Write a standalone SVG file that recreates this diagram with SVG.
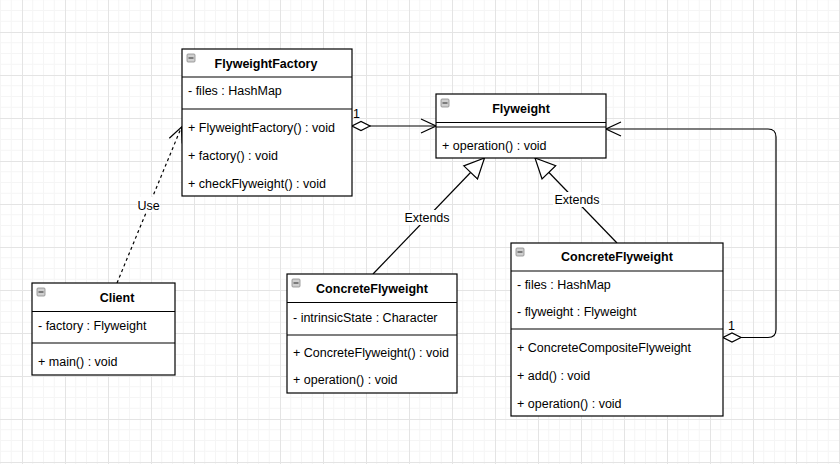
<svg xmlns="http://www.w3.org/2000/svg" width="840" height="464" viewBox="0 0 840 464">
<style>
.box{fill:#fff;stroke:#000;stroke-width:1.2}
.sep{stroke:#000;stroke-width:1.2}
.t{font-family:"Liberation Sans",Arial,sans-serif;font-size:12.5px;fill:#000}
.title{font-weight:bold;text-anchor:middle}
.lbl{text-anchor:middle}
.ic{fill:#cfcfcf;stroke:#8a8a8a;stroke-width:0.8}
.icm{stroke:#444;stroke-width:1.2}
.edge{fill:none;stroke:#000;stroke-width:1.2}
.lblbg{fill:#fff}
</style>
<defs>
<pattern id="grid" x="22" y="32" width="43" height="43" patternUnits="userSpaceOnUse">
<path d="M10.75,0V43M21.5,0V43M32.25,0V43M0,10.75H43M0,21.5H43M0,32.25H43" stroke="#f5f5f5" stroke-width="1"/>
<path d="M0.5,0V43M0,0.5H43" stroke="#e4e4e4" stroke-width="1"/>
</pattern>
<marker id="open" viewBox="0 0 17 16" refX="16" refY="8" markerWidth="17" markerHeight="16" markerUnits="userSpaceOnUse" orient="auto">
<path d="M1,1L16,8L1,15" fill="none" stroke="#000" stroke-width="1.2"/>
</marker>
<marker id="tri" viewBox="0 0 22 22" refX="21" refY="11" markerWidth="22" markerHeight="22" markerUnits="userSpaceOnUse" orient="auto">
<path d="M1,1.5L21,11L1,20.5Z" fill="#fff" stroke="#000" stroke-width="1.2"/>
</marker>
<marker id="dia" viewBox="0 0 20 12" refX="19" refY="6" markerWidth="20" markerHeight="12" markerUnits="userSpaceOnUse" orient="auto-start-reverse">
<path d="M1,6L10,1.5L19,6L10,10.5Z" fill="#fff" stroke="#000" stroke-width="1.2"/>
</marker>
</defs>
<rect width="840" height="464" fill="#fff"/>
<rect width="840" height="464" fill="url(#grid)"/>

<g id="connectors">
<g id="edge-use">
<path class="edge" d="M117,283L181.5,127" stroke-dasharray="3,3" marker-end="url(#open)"/>
<rect class="lblbg" x="137" y="197" width="23" height="15"/>
<text class="t lbl" x="148.5" y="209.5">Use</text>
</g>
<g id="edge-agg1">
<path class="edge" d="M352,126H436" marker-start="url(#dia)" marker-end="url(#open)"/>
<text class="t" x="353" y="118">1</text>
</g>
<g id="edge-ext1">
<path class="edge" d="M373,274L484.5,158" marker-end="url(#tri)"/>
<rect class="lblbg" x="403" y="210" width="48" height="15"/>
<text class="t lbl" x="427" y="222">Extends</text>
</g>
<g id="edge-ext2">
<path class="edge" d="M617,243L535,158" marker-end="url(#tri)"/>
<rect class="lblbg" x="553" y="192" width="48" height="15"/>
<text class="t lbl" x="577" y="204">Extends</text>
</g>
<g id="edge-agg2">
<path class="edge" d="M723,337.5H768Q776,337.5 776,329.5V137Q776,129 768,129H606" marker-start="url(#dia)" marker-end="url(#open)"/>
<text class="t" x="728" y="330">1</text>
</g>
</g>

<g id="FlyweightFactory">
<rect class="box" x="182" y="49" width="170" height="147"/>
<line class="sep" x1="182" y1="77" x2="352" y2="77"/>
<line class="sep" x1="182" y1="109" x2="352" y2="109"/>
<rect class="ic" x="187" y="54" width="8" height="8" rx="1"/>
<line class="icm" x1="188.5" y1="58" x2="193.5" y2="58"/>
<text class="t title" x="266" y="68">FlyweightFactory</text>
<text class="t" x="188" y="95">- files : HashMap</text>
<text class="t" x="188" y="131.5">+ FlyweightFactory() : void</text>
<text class="t" x="188" y="159.5">+ factory() : void</text>
<text class="t" x="188" y="187.5">+ checkFlyweight() : void</text>
</g>

<g id="Flyweight">
<rect class="box" x="436" y="94" width="170" height="64"/>
<line class="sep" x1="436" y1="122.5" x2="606" y2="122.5"/>
<line class="sep" x1="436" y1="127" x2="606" y2="127"/>
<rect class="ic" x="441" y="99" width="8" height="8" rx="1"/>
<line class="icm" x1="442.5" y1="103" x2="447.5" y2="103"/>
<text class="t title" x="521" y="113">Flyweight</text>
<text class="t" x="442" y="149.5">+ operation() : void</text>
</g>

<g id="Client">
<rect class="box" x="32" y="283" width="143" height="92"/>
<line class="sep" x1="32" y1="311.5" x2="175" y2="311.5"/>
<line class="sep" x1="32" y1="343" x2="175" y2="343"/>
<rect class="ic" x="37" y="288" width="8" height="8" rx="1"/>
<line class="icm" x1="38.5" y1="292" x2="43.5" y2="292"/>
<text class="t title" x="117" y="302">Client</text>
<text class="t" x="38" y="330">- factory : Flyweight</text>
<text class="t" x="38" y="365.5">+ main() : void</text>
</g>

<g id="ConcreteFlyweight1">
<rect class="box" x="287" y="274" width="170" height="119"/>
<line class="sep" x1="287" y1="302.5" x2="457" y2="302.5"/>
<line class="sep" x1="287" y1="335" x2="457" y2="335"/>
<rect class="ic" x="292" y="279" width="8" height="8" rx="1"/>
<line class="icm" x1="293.5" y1="283" x2="298.5" y2="283"/>
<text class="t title" x="372" y="293">ConcreteFlyweight</text>
<text class="t" x="293" y="321.5">- intrinsicState : Character</text>
<text class="t" x="293" y="356.5">+ ConcreteFlyweight() : void</text>
<text class="t" x="293" y="384">+ operation() : void</text>
</g>

<g id="ConcreteFlyweight2">
<rect class="box" x="511" y="243" width="212" height="173"/>
<line class="sep" x1="511" y1="271" x2="723" y2="271"/>
<line class="sep" x1="511" y1="329" x2="723" y2="329"/>
<rect class="ic" x="516" y="248" width="8" height="8" rx="1"/>
<line class="icm" x1="517.5" y1="252" x2="522.5" y2="252"/>
<text class="t title" x="617" y="261">ConcreteFlyweight</text>
<text class="t" x="517" y="288.5">- files : HashMap</text>
<text class="t" x="517" y="315.5">- flyweight : Flyweight</text>
<text class="t" x="517" y="351.5">+ ConcreteCompositeFlyweight</text>
<text class="t" x="517" y="379.5">+ add() : void</text>
<text class="t" x="517" y="407.5">+ operation() : void</text>
</g>
</svg>
